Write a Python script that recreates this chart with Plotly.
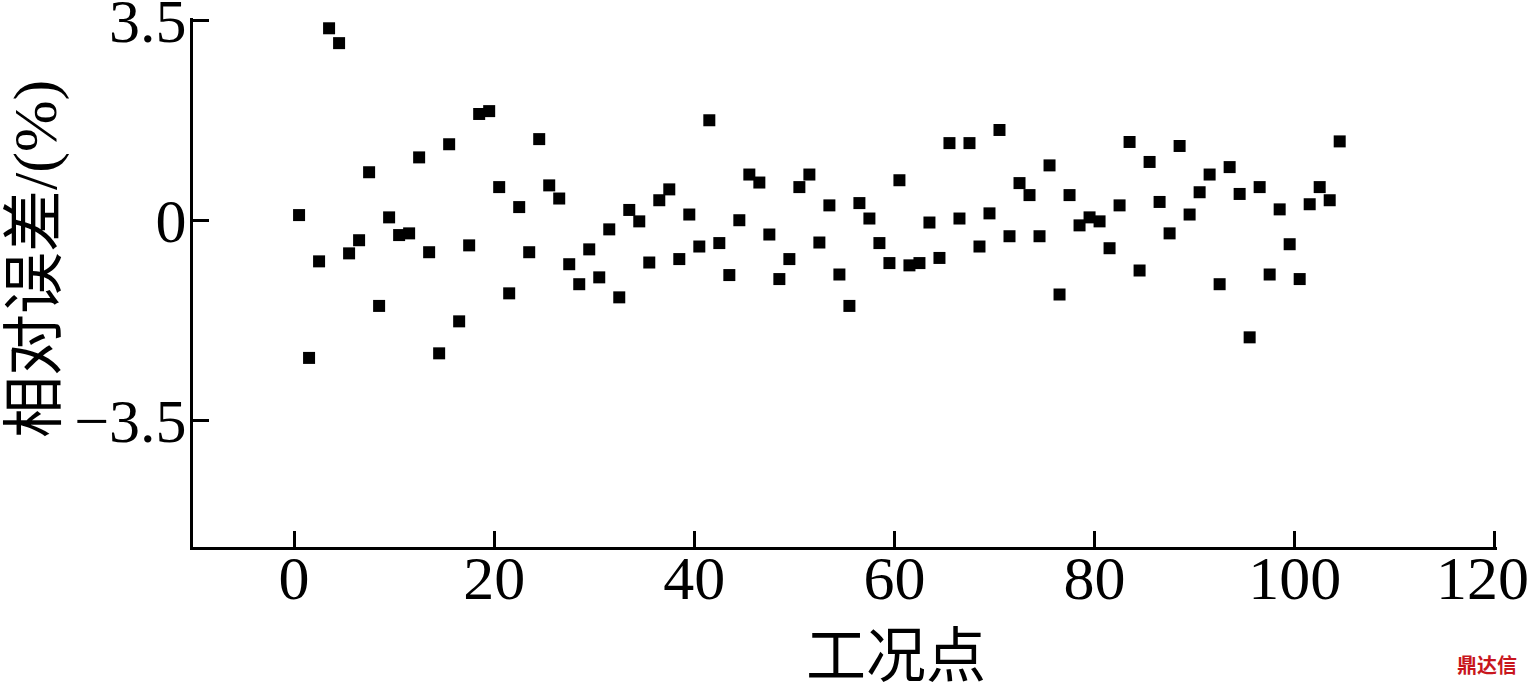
import plotly.graph_objects as go

# Working-point index (1..105); each point is drawn at index - 0.5
point_index = list(range(1, 106))

# Relative error (%)
rel_error = [
    0.09, -2.41, -0.72, 3.36, 3.10, -0.58, -0.35, 0.84, -1.50, 0.05,
    -0.26, -0.23, 1.10, -0.56, -2.33, 1.33, -1.77, -0.44, 1.86, 1.91,
    0.58, -1.28, 0.23, -0.56, 1.42, 0.61, 0.38, -0.77, -1.12, -0.51,
    -1.00, -0.16, -1.35, 0.18, -0.02, -0.74, 0.35, 0.54, -0.68, 0.10,
    -0.46, 1.75, -0.40, -0.96, 0.00, 0.80, 0.66, -0.25, -1.03, -0.68,
    0.58, 0.80, -0.39, 0.26, -0.95, -1.50, 0.30, 0.03, -0.40, -0.75,
    0.70, -0.79, -0.75, -0.04, -0.66, 1.35, 0.03, 1.35, -0.46, 0.12,
    1.58, -0.28, 0.65, 0.44, -0.28, 0.96, -1.30, 0.44, -0.09, 0.05,
    -0.02, -0.49, 0.26, 1.37, -0.88, 1.02, 0.32, -0.23, 1.30, 0.10,
    0.49, 0.80, -1.12, 0.93, 0.46, -2.05, 0.58, -0.95, 0.19, -0.42,
    -1.03, 0.28, 0.58, 0.35, 1.38,
]

x_tickvals = [0, 20, 40, 60, 80, 100, 120]
x_ticktext = ["0", "20", "40", "60", "80", "100", "120\u2009\u2009"]
y_tickvals = [-3.5, 0, 3.5]
y_ticktext = ["\u22123.5", "0", "3.5"]

x_title = "工况点"
y_title = "相对误差/(%)"
watermark = "鼎达信"

x_plot = [n - 0.5 for n in point_index]

fig = go.Figure()
fig.add_trace(go.Scatter(
    x=x_plot, y=rel_error, mode="markers",
    marker=dict(symbol="square", size=12, color="black", line=dict(width=0)),
    showlegend=False, hoverinfo="x+y",
))

font_main = "Liberation Serif, Times New Roman, Noto Sans CJK SC, serif"

fig.update_layout(
    width=1535, height=689,
    margin=dict(l=193, r=38, t=18, b=142, autoexpand=False),
    paper_bgcolor="white", plot_bgcolor="white",
    font=dict(family=font_main, color="black", size=60),
    xaxis=dict(
        range=[-10.1, 120.22], tickvals=x_tickvals, ticktext=x_ticktext,
        showline=True, linecolor="black", linewidth=3,
        ticks="inside", ticklen=16, tickwidth=3, tickcolor="black",
        showgrid=False, zeroline=False, automargin=False,
        ticklabelstandoff=-25, ticklabeloverflow="allow",
        tickfont=dict(family=font_main, size=62),
    ),
    yaxis=dict(
        range=[-5.72, 3.54], tickvals=y_tickvals, ticktext=y_ticktext,
        showline=True, linecolor="black", linewidth=3,
        ticks="inside", ticklen=16, tickwidth=3, tickcolor="black",
        showgrid=False, zeroline=False, automargin=False,
        ticklabelstandoff=-9, ticklabeloverflow="allow",
        tickfont=dict(family=font_main, size=62),
    ),
    annotations=[
        dict(text=x_title, xref="paper", yref="paper", x=0.539, y=-0.195,
             xanchor="center", yanchor="middle", showarrow=False,
             font=dict(family="Noto Sans CJK SC", size=60, color="black")),
        dict(text=y_title, xref="paper", yref="paper", x=-0.121, y=0.545,
             xanchor="center", yanchor="middle", showarrow=False, textangle=-90,
             font=dict(family=font_main, size=62, color="black")),
        dict(text="<b>" + watermark + "</b>", xref="paper", yref="paper",
             x=0.992, y=-0.222,
             xanchor="center", yanchor="middle", showarrow=False,
             font=dict(family="Noto Sans CJK SC", size=20, color="#c8161d")),
    ],
)

fig.write_html(
    "out.html",
    config={"displayModeBar": False},
    post_script="document.body.style.margin='0';document.body.style.overflow='hidden';",
)
